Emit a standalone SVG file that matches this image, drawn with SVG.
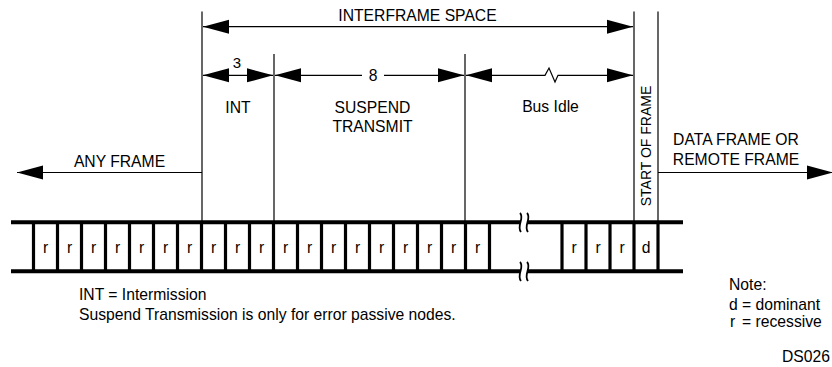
<svg xmlns="http://www.w3.org/2000/svg" xmlns:xlink="http://www.w3.org/1999/xlink" width="832" height="367" viewBox="0 0 832 367">
<style>
text{font-family:"Liberation Sans",Arial,sans-serif;font-size:15.7px;fill:#000}
.m{text-anchor:middle}
.thin{stroke:#000;stroke-width:1.2;fill:none}
.bar{stroke:#000;stroke-width:4;fill:none}
.div{stroke:#000;stroke-width:3.2;fill:none}
.arr{marker-start:url(#ah);marker-end:url(#ah)}
</style>
<defs>
<marker id="ah" markerUnits="userSpaceOnUse" markerWidth="27" markerHeight="15" refX="26" refY="7.5" orient="auto-start-reverse">
<path d="M0,0.5 L26,7.5 L0,14.5 Z" fill="#000"/>
</marker>
</defs>
<rect width="832" height="367" fill="#fff"/>

<g id="boundaries">
<line class="thin" x1="202" y1="11.5" x2="202" y2="222"/>
<line class="thin" x1="274" y1="54" x2="274" y2="222"/>
<line class="thin" x1="465" y1="54" x2="465" y2="222"/>
<line class="thin" x1="634" y1="11.5" x2="634" y2="222"/>
<line class="thin" x1="658" y1="11.5" x2="658" y2="222"/>
</g>

<g id="connectors">
<line class="thin arr" x1="203" y1="26.7" x2="633" y2="26.7"/>
<line class="thin arr" x1="203" y1="75.3" x2="273" y2="75.3"/>
<line class="thin" x1="275" y1="75.3" x2="362" y2="75.3" style="marker-start:url(#ah)"/>
<line class="thin" x1="384" y1="75.3" x2="464" y2="75.3" style="marker-end:url(#ah)"/>
<path class="thin arr" d="M466,75.3 L545,75.3 L549,68 L555,82 L558,75.3 L633,75.3"/>
<line class="thin" x1="202" y1="172.5" x2="17" y2="172.5" style="marker-end:url(#ah)"/>
<line class="thin" x1="658" y1="172.5" x2="833" y2="172.5" style="marker-end:url(#ah)"/>
</g>

<g id="labels">
<text class="m" x="417.5" y="20.5">INTERFRAME SPACE</text>
<text class="m" x="237" y="68" style="font-size:15px">3</text>
<text class="m" x="373" y="81">8</text>
<text class="m" x="238" y="113">INT</text>
<text class="m" x="372.5" y="113">SUSPEND</text>
<text class="m" x="372.5" y="131.5">TRANSMIT</text>
<text class="m" x="550.5" y="112">Bus Idle</text>
<text class="m" x="119.5" y="167">ANY FRAME</text>
<text class="m" x="736" y="145">DATA FRAME OR</text>
<text class="m" x="736" y="165">REMOTE FRAME</text>
<text class="m" x="651" y="146" transform="rotate(-90 651 146)" style="font-size:14px">START OF FRAME</text>
</g>

<g id="bitstream">
<line class="bar" x1="11" y1="222.3" x2="683" y2="222.3"/>
<line class="bar" x1="11" y1="271.3" x2="683" y2="271.3"/>
<g class="div">
<line x1="33.5" y1="222" x2="33.5" y2="271"/>
<line x1="57.5" y1="222" x2="57.5" y2="271"/>
<line x1="81.5" y1="222" x2="81.5" y2="271"/>
<line x1="105.5" y1="222" x2="105.5" y2="271"/>
<line x1="129.5" y1="222" x2="129.5" y2="271"/>
<line x1="153.5" y1="222" x2="153.5" y2="271"/>
<line x1="177.5" y1="222" x2="177.5" y2="271"/>
<line x1="201.5" y1="222" x2="201.5" y2="271"/>
<line x1="225.5" y1="222" x2="225.5" y2="271"/>
<line x1="249.5" y1="222" x2="249.5" y2="271"/>
<line x1="273.5" y1="222" x2="273.5" y2="271"/>
<line x1="297.5" y1="222" x2="297.5" y2="271"/>
<line x1="321.5" y1="222" x2="321.5" y2="271"/>
<line x1="345.5" y1="222" x2="345.5" y2="271"/>
<line x1="369.5" y1="222" x2="369.5" y2="271"/>
<line x1="393.5" y1="222" x2="393.5" y2="271"/>
<line x1="417.5" y1="222" x2="417.5" y2="271"/>
<line x1="441.5" y1="222" x2="441.5" y2="271"/>
<line x1="465.5" y1="222" x2="465.5" y2="271"/>
<line x1="489.5" y1="222" x2="489.5" y2="271"/>
<line x1="562" y1="222" x2="562" y2="271"/>
<line x1="586" y1="222" x2="586" y2="271"/>
<line x1="610" y1="222" x2="610" y2="271"/>
<line x1="634" y1="222" x2="634" y2="271"/>
<line x1="658" y1="222" x2="658" y2="271"/>
</g>
<g>
<text class="m" x="45.5" y="252.5">r</text>
<text class="m" x="69.5" y="252.5">r</text>
<text class="m" x="93.5" y="252.5">r</text>
<text class="m" x="117.5" y="252.5">r</text>
<text class="m" x="141.5" y="252.5">r</text>
<text class="m" x="165.5" y="252.5">r</text>
<text class="m" x="189.5" y="252.5">r</text>
<text class="m" x="213.5" y="252.5">r</text>
<text class="m" x="237.5" y="252.5">r</text>
<text class="m" x="261.5" y="252.5">r</text>
<text class="m" x="285.5" y="252.5">r</text>
<text class="m" x="309.5" y="252.5">r</text>
<text class="m" x="333.5" y="252.5">r</text>
<text class="m" x="357.5" y="252.5">r</text>
<text class="m" x="381.5" y="252.5">r</text>
<text class="m" x="405.5" y="252.5">r</text>
<text class="m" x="429.5" y="252.5">r</text>
<text class="m" x="453.5" y="252.5">r</text>
<text class="m" x="477.5" y="252.5">r</text>
<text class="m" x="574" y="252.5">r</text>
<text class="m" x="598" y="252.5">r</text>
<text class="m" x="622" y="252.5">r</text>
<text class="m" x="646" y="252.5">d</text>
</g>
<g id="breaks">
<path d="M520,213 C525,218 516,226 521,232 L528,232 C523,226 532,218 527,213 Z" fill="#fff"/>
<path class="thin" style="stroke-width:1.8" d="M520,213 C525,218 516,226 521,232 M527,213 C532,218 523,226 528,232"/>
<path d="M520,262 C525,267 516,275 521,281 L528,281 C523,275 532,267 527,262 Z" fill="#fff"/>
<path class="thin" style="stroke-width:1.8" d="M520,262 C525,267 516,275 521,281 M527,262 C532,267 523,275 528,281"/>
</g>
</g>

<g id="notes">
<text x="79" y="300">INT = Intermission</text>
<text x="79" y="319.5">Suspend Transmission is only for error passive nodes.</text>
<text x="729" y="290">Note:</text>
<text x="729" y="310">d</text><text x="742" y="310">= dominant</text>
<text x="730" y="327">r</text><text x="742" y="327">= recessive</text>
<text x="782" y="362">DS026</text>
</g>
</svg>
